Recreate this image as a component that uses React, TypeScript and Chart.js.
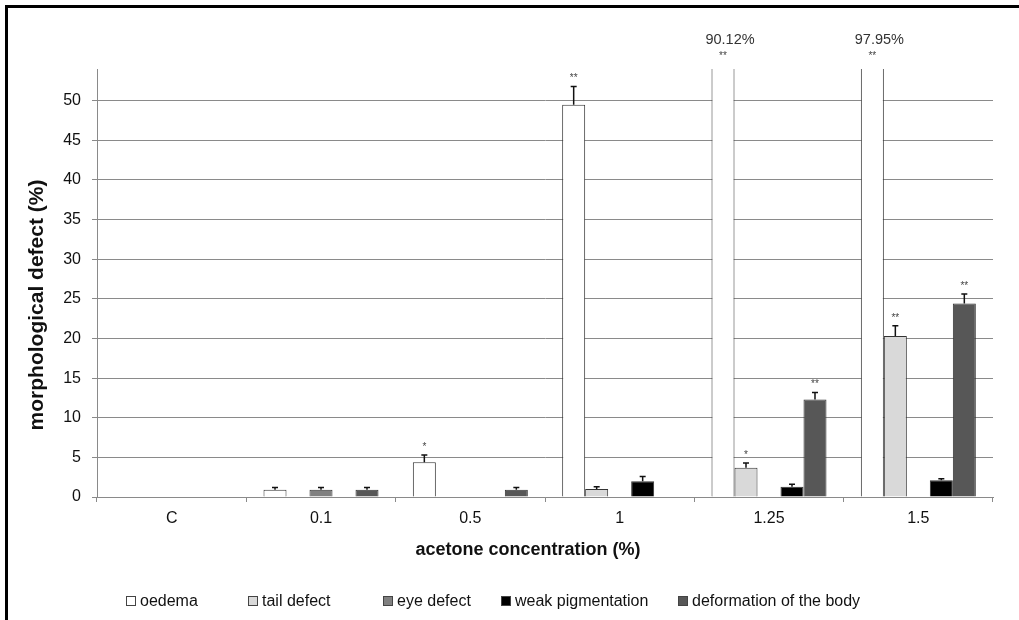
import React, { useEffect, useRef } from "react";
import { Chart, registerables } from "chart.js";

Chart.register(...registerables);

const categories = ["C", "0.1", "0.5", "1", "1.25", "1.5"];

const seriesNames = ["oedema", "tail defect", "eye defect", "weak pigmentation", "deformation of the body"];
const seriesColors = ["#ffffff", "#d9d9d9", "#808080", "#000000", "#575757"];

const oedema = [0, 0.9, 4.4, 49.5, 90.12, 97.95];
const tailDefect = [0, 0, 0, 1.0, 3.7, 20.3];
const eyeDefect = [0, 0.9, 0, 0, 0, 0];
const weakPigmentation = [0, 0, 0, 2.0, 1.3, 2.1];
const deformation = [0, 0.9, 0.9, 0, 12.3, 24.4];

const oedemaErr = [0, 0.3, 0.9, 2.3, 0, 0];
const tailDefectErr = [0, 0, 0, 0.3, 0.6, 1.3];
const eyeDefectErr = [0, 0.3, 0, 0, 0, 0];
const weakPigmentationErr = [0, 0, 0, 0.6, 0.3, 0.2];
const deformationErr = [0, 0.3, 0.3, 0, 0.9, 1.2];

const oedemaSig = ["", "", "*", "**", "**", "**"];
const tailDefectSig = ["", "", "", "", "*", "**"];
const eyeDefectSig = ["", "", "", "", "", ""];
const weakPigmentationSig = ["", "", "", "", "", ""];
const deformationSig = ["", "", "", "", "**", "**"];

const yTicks = [0, 5, 10, 15, 20, 25, 30, 35, 40, 45, 50];
const yMax = 54;

const xTitle = "acetone concentration (%)";
const yTitle = "morphological defect (%)";

const FONT = "'Liberation Sans', Arial, sans-serif";

const allValues = [oedema, tailDefect, eyeDefect, weakPigmentation, deformation];
const allErrs = [oedemaErr, tailDefectErr, eyeDefectErr, weakPigmentationErr, deformationErr];
const allSigs = [oedemaSig, tailDefectSig, eyeDefectSig, weakPigmentationSig, deformationSig];

const legendX = [126, 248, 383, 501, 678];

const extrasPlugin = {
  id: "extras",
  afterDatasetsDraw(chart: any) {
    const ctx = chart.ctx;
    const y = chart.scales.y;
    const area = chart.chartArea;
    ctx.save();
    allValues.forEach((vals, di) => {
      const meta = chart.getDatasetMeta(di);
      meta.data.forEach((bar: any, i: number) => {
        const v = vals[i];
        const e = allErrs[di][i];
        const s = allSigs[di][i];
        if (v > yMax) {
          ctx.fillStyle = "#444";
          ctx.font = `10px ${FONT}`;
          ctx.textAlign = "center";
          ctx.textBaseline = "middle";
          if (s) ctx.fillText(s, bar.x, area.top - 13);
          ctx.fillStyle = "#333";
          ctx.font = `14.5px ${FONT}`;
          ctx.fillText(v.toFixed(2) + "%", bar.x + 7, area.top - 29);
          return;
        }
        let top = bar.y;
        if (e > 0) {
          const yt = y.getPixelForValue(v + e);
          ctx.strokeStyle = "#111";
          ctx.lineWidth = 1.5;
          ctx.beginPath();
          ctx.moveTo(bar.x, bar.y);
          ctx.lineTo(bar.x, yt);
          ctx.moveTo(bar.x - 3, yt);
          ctx.lineTo(bar.x + 3, yt);
          ctx.stroke();
          top = yt;
        }
        if (s) {
          ctx.fillStyle = "#444";
          ctx.font = `10px ${FONT}`;
          ctx.textAlign = "center";
          ctx.textBaseline = "middle";
          ctx.fillText(s, bar.x, top - 8);
        }
      });
    });
    ctx.restore();
  },
  afterDraw(chart: any) {
    const ctx = chart.ctx;
    ctx.save();
    // axis titles
    ctx.fillStyle = "#111";
    ctx.textAlign = "center";
    ctx.textBaseline = "middle";
    ctx.font = `bold 18px ${FONT}`;
    ctx.fillText(xTitle, 528, 550);
    ctx.save();
    ctx.translate(37, 305);
    ctx.rotate(-Math.PI / 2);
    ctx.font = `bold 21px ${FONT}`;
    ctx.fillText(yTitle, 0, 0);
    ctx.restore();
    // legend
    ctx.font = `16px ${FONT}`;
    ctx.textAlign = "left";
    seriesNames.forEach((name, i) => {
      const x = legendX[i];
      const yc = 601;
      ctx.fillStyle = seriesColors[i];
      ctx.fillRect(x, yc - 5, 10, 10);
      ctx.strokeStyle = "#444";
      ctx.lineWidth = 1;
      ctx.strokeRect(x + 0.5, yc - 4.5, 9, 9);
      ctx.fillStyle = "#111";
      ctx.fillText(name, x + 14, yc + 1);
    });
    ctx.restore();
  },
};

export default function App() {
  const ref = useRef<HTMLCanvasElement | null>(null);
  useEffect(() => {
    if (!ref.current) return;
    const chart = new Chart(ref.current, {
      type: "bar",
      data: {
        labels: categories,
        datasets: seriesNames.map((name, i) => ({
          label: name,
          data: allValues[i],
          backgroundColor: seriesColors[i],
          borderColor: "#333",
          borderWidth: 1,
          categoryPercentage: 0.77,
          barPercentage: 1,
          clip: { left: 5, right: 5, top: 0, bottom: 5 },
        })),
      },
      options: {
        responsive: false,
        maintainAspectRatio: false,
        animation: false,
        layout: { padding: { top: 69, right: 26, left: 0, bottom: 0 } },
        plugins: { legend: { display: false }, tooltip: { enabled: false } },
        scales: {
          x: {
            grid: { display: true, drawOnChartArea: false, drawTicks: true, tickLength: 5, color: "#8a8a8a", offset: true },
            border: { color: "#8a8a8a" },
            ticks: { font: { family: FONT, size: 16 }, color: "#111", padding: 7 },
            afterFit: (s: any) => {
              s.height = 123;
            },
          },
          y: {
            min: 0,
            max: yMax,
            ticks: { stepSize: 5, font: { family: FONT, size: 16 }, color: "#111", padding: 11 },
            grid: { color: "#8a8a8a", tickLength: 5, lineWidth: 1 },
            border: { color: "#8a8a8a" },
            afterBuildTicks: (s: any) => {
              s.ticks = yTicks.map((v) => ({ value: v }));
            },
            afterFit: (s: any) => {
              s.width = 97;
            },
          },
        },
      },
      plugins: [extrasPlugin],
    } as any);
    return () => chart.destroy();
  }, []);
  return (
    <div style={{ position: "absolute", left: 0, top: 0, width: 1019, height: 620, background: "#fff", overflow: "hidden" }}>
      <canvas ref={ref} width={1019} height={620} style={{ position: "absolute", left: 0, top: 0 }} />
      <div
        style={{
          position: "absolute",
          left: 5,
          top: 5,
          width: 1030,
          height: 640,
          borderLeft: "3px solid #000",
          borderTop: "3px solid #000",
          pointerEvents: "none",
        }}
      />
    </div>
  );
}
